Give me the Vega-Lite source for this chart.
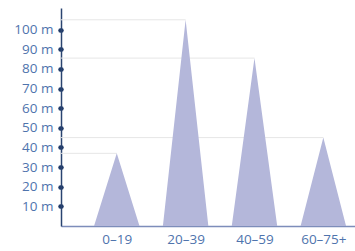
{
  "$schema": "https://vega.github.io/schema/vega-lite/v6.json",
  "width": 294,
  "height": 218,
  "autosize": {"type": "none"},
  "padding": {"left": 61, "top": 8, "right": 0, "bottom": 25},
  "background": "white",
  "config": {"view": {"stroke": null}, "font": "Open Sans"},
  "data": {"values": [
    {"age": "0–19", "i": 1, "value": 37},
    {"age": "20–39", "i": 2, "value": 105},
    {"age": "40–59", "i": 3, "value": 85.5},
    {"age": "60–75+", "i": 4, "value": 45}
  ]},
  "encoding": {
    "x": {"type": "quantitative", "scale": {"domain": [0.19, 4.46]},
      "axis": {"values": [1, 2, 3, 4], "title": null, "grid": false, "ticks": false,
        "labelExpr": "['0–19','20–39','40–59','60–75+'][datum.value - 1]",
        "labelColor": "#4f74ad", "labelFontSize": 13.5, "labelFont": "Open Sans", "labelFontWeight": "normal",
        "labelPadding": 6, "domainColor": "#7d8dba", "domainWidth": 1.5}},
    "y": {"type": "quantitative", "scale": {"domain": [0, 111]},
      "axis": {"values": [10, 20, 30, 40, 50, 60, 70, 80, 90, 100], "title": null, "grid": false,
        "labelExpr": "datum.value + ' m'", "labelColor": "#4f74ad", "labelFontSize": 13.5,
        "labelFont": "Open Sans", "labelFontWeight": "normal",
        "tickSize": 1, "tickWidth": 4.5, "tickCap": "round", "tickColor": "#1f3a68",
        "labelPadding": 7, "domainColor": "#2a4470", "domainWidth": 1.5}}
  },
  "layer": [
    {
      "mark": {"type": "rule", "color": "#e6e6e6", "strokeWidth": 1},
      "encoding": {
        "x": {"field": "i", "type": "quantitative"},
        "x2": {"datum": 0.19},
        "y": {"field": "value", "type": "quantitative"}
      }
    },
    {
      "transform": [
        {"calculate": "[-1, 0, 1]", "as": "k"},
        {"flatten": ["k"]},
        {"calculate": "datum.i + datum.k * 0.33", "as": "px"},
        {"calculate": "datum.k == 0 ? datum.value : 0", "as": "py"}
      ],
      "mark": {"type": "area", "color": "#b4b7da", "opacity": 1, "interpolate": "linear"},
      "encoding": {
        "x": {"field": "px", "type": "quantitative"},
        "y": {"field": "py", "type": "quantitative"},
        "detail": {"field": "age"}
      }
    }
  ]
}
